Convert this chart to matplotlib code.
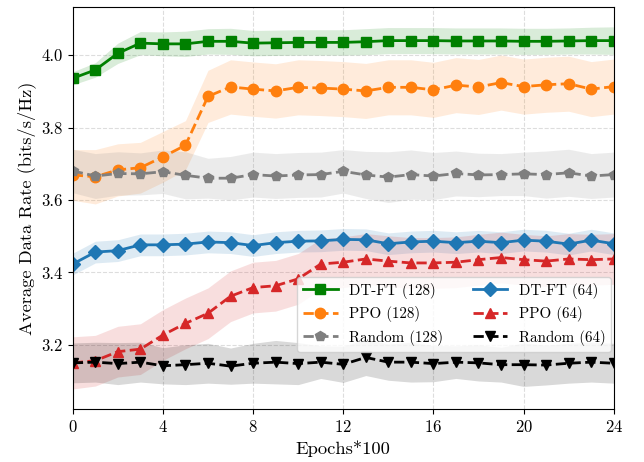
import matplotlib
matplotlib.use("Agg")
import matplotlib.pyplot as plt
import numpy as np

plt.rcParams['font.family'] = ['cmr10', 'DejaVu Serif']
plt.rcParams['mathtext.fontset'] = 'cm'
plt.rcParams['axes.formatter.use_mathtext'] = True

epochs = list(range(25))

dtft128 = [3.936, 3.959, 4.005, 4.033, 4.031, 4.031, 4.038, 4.038, 4.033, 4.034, 4.035, 4.035, 4.035,
           4.037, 4.040, 4.040, 4.040, 4.039, 4.039, 4.039, 4.038, 4.038, 4.039, 4.040, 4.040]
dtft128_sd = [0.018, 0.02, 0.028, 0.032, 0.033, 0.035, 0.035, 0.036, 0.035, 0.035, 0.035, 0.035, 0.035,
              0.036, 0.036, 0.036, 0.036, 0.036, 0.036, 0.036, 0.036, 0.036, 0.036, 0.037, 0.038]

ppo128 = [3.669, 3.664, 3.683, 3.689, 3.719, 3.751, 3.886, 3.912, 3.906, 3.901, 3.911, 3.909, 3.906,
          3.901, 3.911, 3.911, 3.904, 3.917, 3.912, 3.924, 3.913, 3.918, 3.921, 3.906, 3.913]
ppo128_sd = [0.07, 0.075, 0.072, 0.07, 0.07, 0.068, 0.072, 0.075, 0.075, 0.075, 0.076, 0.076, 0.076,
             0.076, 0.076, 0.076, 0.076, 0.076, 0.076, 0.076, 0.076, 0.076, 0.076, 0.076, 0.076]

rand128 = [3.680, 3.666, 3.673, 3.672, 3.678, 3.668, 3.660, 3.660, 3.670, 3.666, 3.669, 3.670, 3.679,
           3.669, 3.663, 3.670, 3.666, 3.673, 3.669, 3.670, 3.672, 3.670, 3.675, 3.666, 3.670]
rand128_sd = [0.06, 0.062, 0.06, 0.058, 0.06, 0.065, 0.055, 0.06, 0.062, 0.062, 0.062, 0.062, 0.06,
              0.065, 0.07, 0.068, 0.065, 0.062, 0.06, 0.058, 0.06, 0.065, 0.065, 0.062, 0.062]

dtft64 = [3.423, 3.456, 3.460, 3.476, 3.476, 3.478, 3.484, 3.482, 3.474, 3.482, 3.486, 3.487, 3.491,
          3.490, 3.479, 3.484, 3.486, 3.482, 3.486, 3.482, 3.489, 3.486, 3.478, 3.489, 3.479]
dtft64_sd = [0.03, 0.03, 0.03, 0.03, 0.03, 0.03, 0.03, 0.03, 0.03, 0.03, 0.03, 0.03, 0.03,
             0.03, 0.03, 0.03, 0.03, 0.03, 0.03, 0.03, 0.03, 0.03, 0.03, 0.03, 0.03]

ppo64 = [3.150, 3.156, 3.181, 3.188, 3.227, 3.259, 3.287, 3.334, 3.358, 3.363, 3.382, 3.423, 3.428,
         3.437, 3.431, 3.426, 3.426, 3.428, 3.435, 3.441, 3.435, 3.431, 3.437, 3.435, 3.437]
ppo64_sd = [0.072, 0.07, 0.07, 0.07, 0.07, 0.07, 0.07, 0.07, 0.07, 0.07, 0.07, 0.07, 0.07,
            0.07, 0.07, 0.07, 0.07, 0.07, 0.07, 0.07, 0.07, 0.07, 0.07, 0.07, 0.07]

rand64 = [3.150, 3.152, 3.148, 3.152, 3.142, 3.145, 3.149, 3.141, 3.149, 3.152, 3.148, 3.152, 3.146,
          3.165, 3.152, 3.152, 3.148, 3.152, 3.150, 3.145, 3.145, 3.144, 3.149, 3.152, 3.149]
rand64_sd = [0.055, 0.055, 0.058, 0.055, 0.05, 0.055, 0.055, 0.05, 0.055, 0.06, 0.058, 0.045, 0.05,
             0.05, 0.05, 0.055, 0.05, 0.045, 0.05, 0.048, 0.06, 0.055, 0.055, 0.055, 0.055]

series = [
    ("DT-FT (128)", dtft128, dtft128_sd, "green", "s", "-"),
    ("PPO (128)", ppo128, ppo128_sd, "tab:orange", "o", "--"),
    ("Random (128)", rand128, rand128_sd, "tab:gray", "p", "--"),
    ("DT-FT (64)", dtft64, dtft64_sd, "tab:blue", "D", "-"),
    ("PPO (64)", ppo64, ppo64_sd, "tab:red", "^", "--"),
    ("Random (64)", rand64, rand64_sd, "black", "v", "--"),
]

fig = plt.figure(figsize=(6.44, 4.62), dpi=100)
ax = fig.add_axes([0.113, 0.115, 0.840, 0.870])

x = np.array(epochs)
for label, m, sd, c, mk, ls in series:
    m = np.array(m); sd = np.array(sd)
    ax.fill_between(x, m - sd, m + sd, color=c, alpha=0.15, linewidth=0)
    ax.plot(x, m, color=c, marker=mk, linestyle=ls, linewidth=2, markersize=7.5, label=label)

ax.set_xlim(0, 24)
ax.set_ylim(3.023, 4.133)
ax.set_xticks([0, 4, 8, 12, 16, 20, 24])
ax.set_yticks([3.2, 3.4, 3.6, 3.8, 4.0])
ax.set_yticklabels(["3.2", "3.4", "3.6", "3.8", "4.0"])
ax.grid(True, linestyle='--', color='#dddddd', linewidth=0.8)
ax.set_axisbelow(True)
ax.tick_params(labelsize=12)
ax.set_xlabel("Epochs*100", fontsize=13.3)
ax.set_ylabel("Average Data Rate (bits/s/Hz)", fontsize=13.3)

ax.legend(ncol=2, loc='lower right', bbox_to_anchor=(0.9957, 0.1425), borderaxespad=0,
          fontsize=10.8, handlelength=2.3, handletextpad=0.75, columnspacing=2.0,
          labelspacing=0.5, framealpha=0.8)

fig.savefig("out.png", dpi=100)
